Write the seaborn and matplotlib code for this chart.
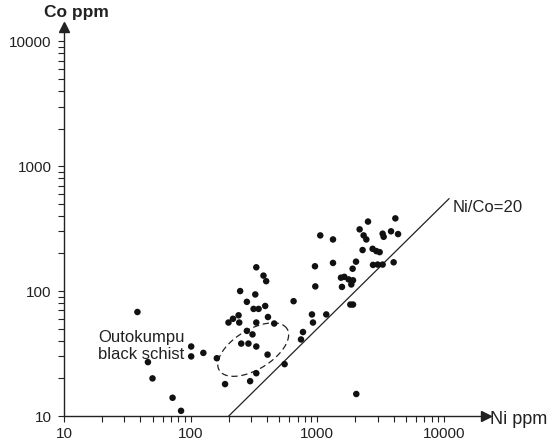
import numpy as np
import pandas as pd
import matplotlib
matplotlib.use("Agg")
import matplotlib.pyplot as plt
from matplotlib.ticker import FixedLocator, NullFormatter
import seaborn as sns

# Ni and Co contents (ppm)
ni_ppm = [38, 46, 50, 72, 84, 101, 101, 126, 161, 187,
          199, 216, 239, 242, 246, 278, 278, 251, 286, 308,
          295, 324, 314, 344, 388, 330, 330, 330, 395, 408,
          405, 457, 330, 376, 650, 908, 1178, 925, 771, 744,
          965, 959, 1056, 1331, 1331, 1539, 1635, 1768, 1915, 1857,
          1567, 1824, 1915, 2023, 1902, 2280, 2736, 2927, 3109, 2756,
          2998, 3282, 4010, 2516, 2160, 2323, 2440, 3282, 3344, 3824,
          4345, 4136, 2033, 552]
co_ppm = [68, 27, 20, 14, 11, 36, 30, 32, 29, 18,
          56, 60, 64, 56, 100, 82, 48, 38, 38, 45,
          19, 94, 72, 72, 76, 56, 36, 22, 120, 62,
          31, 55, 155, 133, 83, 65, 65, 56, 47, 41,
          109, 158, 279, 259, 168, 128, 130, 124, 122, 113,
          108, 78, 78, 172, 151, 213, 218, 209, 205, 162,
          163, 163, 170, 360, 312, 279, 259, 288, 272, 301,
          286, 382, 15, 26]

# Ni/Co = 20 reference line
ratio_value = 20
ratio_line_ni = [200, 11000]

# dashed field of the Outokumpu black schist (centre in ppm, semi-axes in decades, tilt in degrees)
field_centre = (312, 34)
field_axes = (0.315, 0.158)
field_tilt = 32

tick_values = [10, 100, 1000, 10000]
tick_labels = ["10", "100", "1000", "10000"]

df = pd.DataFrame({"Ni": ni_ppm, "Co": co_ppm})

sns.set_style("white")
plt.rcParams["font.family"] = ["Liberation Sans", "DejaVu Sans"]
ink = "#222222"

fig = plt.figure(figsize=(5.58, 4.40), dpi=100)
ax = fig.add_axes([64 / 558, 24 / 440, 422 / 558, 389 / 440])

sns.scatterplot(data=df, x="Ni", y="Co", ax=ax, color="#111111", s=22,
                edgecolor="none", linewidth=0, zorder=3)

ax.set_xscale("log")
ax.set_yscale("log")
ax.set_xlim(10, 21500)
ax.set_ylim(10, 13000)

# ratio line
line_ni = np.array(ratio_line_ni, dtype=float)
ax.plot(line_ni, line_ni / ratio_value, color=ink, lw=0.9)
ax.text(11800, 470, "Ni/Co=20", fontsize=12, color=ink, va="center", ha="left")

# dashed ellipse drawn in log space
t = np.linspace(0, 2 * np.pi, 200)
a, b = field_axes
th = np.radians(field_tilt)
u, v = a * np.cos(t), b * np.sin(t)
lx = np.log10(field_centre[0]) + u * np.cos(th) - v * np.sin(th)
ly = np.log10(field_centre[1]) + u * np.sin(th) + v * np.cos(th)
ax.plot(10 ** lx, 10 ** ly, color=ink, lw=0.9, ls=(0, (5, 3)))

ax.text(18.6, 36.5, "Outokumpu\nblack schist", fontsize=12, color=ink,
        va="center", ha="left", linespacing=1.15)

# ticks
minor = [m * 10 ** k for k in range(1, 4) for m in range(2, 10)]
for axis in (ax.xaxis, ax.yaxis):
    axis.set_major_locator(FixedLocator(tick_values))
    axis.set_minor_locator(FixedLocator(minor))
    axis.set_minor_formatter(NullFormatter())
ax.set_xticklabels(tick_labels)
ax.set_yticklabels(tick_labels)
ax.tick_params(which="both", direction="out", length=4, width=0.8, color=ink,
               labelsize=11, labelcolor=ink, bottom=True, left=True)
ax.tick_params(axis="x", pad=4)
ax.tick_params(axis="y", pad=5)
ax.set_xlabel("")
ax.set_ylabel("")

for side in ("top", "right"):
    ax.spines[side].set_visible(False)
for side in ("left", "bottom"):
    ax.spines[side].set_color(ink)
    ax.spines[side].set_linewidth(1.0)

# arrow heads
ax.plot(1, 0, marker=">", ms=7, color=ink, transform=ax.transAxes, clip_on=False)
ax.plot(0, 1, marker="^", ms=7, color=ink, transform=ax.transAxes, clip_on=False)

fig.text(490 / 558, 1 - 419 / 440, "Ni ppm", fontsize=13, color=ink, va="center", ha="left")
fig.text(76 / 558, 1 - 13 / 440, "Co ppm", fontsize=12.5, color=ink, va="center",
         ha="center", fontweight="bold")

fig.savefig("out.png", dpi=100, facecolor="white")
